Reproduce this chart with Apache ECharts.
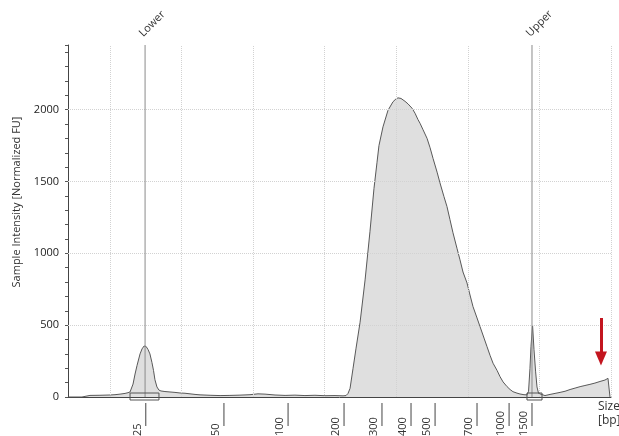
<!DOCTYPE html>
<html>
<head>
<meta charset="utf-8">
<script src="https://cdn.jsdelivr.net/npm/echarts@6/dist/echarts.min.js"></script>
<style>html,body{margin:0;padding:0;background:#fff;}#c{width:619px;height:436px;}</style>
</head>
<body>
<div id="c"></div>
<script>
// migration time (s) and intensity (normalized FU)
const timeSec = [17.07,18.04,18.11,18.60,19.30,20.00,20.35,20.70,21.05,21.26,21.40,21.61,21.75,21.89,22.10,22.24,22.38,22.52,22.66,22.79,22.93,23.04,23.14,23.28,23.42,23.56,23.84,24.19,24.54,24.89,25.24,25.59,25.94,26.29,26.99,27.69,28.38,29.08,29.78,30.34,30.83,31.53,32.23,32.92,33.62,34.32,35.02,35.72,36.28,36.49,36.63,36.77,36.98,37.19,37.47,37.82,38.16,38.44,38.65,38.79,39.07,39.42,39.77,39.98,40.12,40.33,40.61,40.82,41.10,41.31,41.52,41.66,41.87,42.15,42.36,42.57,42.85,43.05,43.33,43.54,43.75,43.96,44.24,44.45,44.66,44.94,45.15,45.36,45.64,45.85,46.13,46.34,46.55,46.76,47.04,47.25,47.46,47.74,47.95,48.15,48.43,48.64,48.92,49.13,49.24,49.34,49.41,49.52,49.62,49.73,49.83,49.94,50.04,50.39,50.74,51.09,51.44,51.79,52.14,52.49,52.84,53.18,53.53,53.88,54.23,54.58,54.79,54.90,54.93];
const intensity = [0,0,12,11,12,14,16,20,25,30,35,90,160,220,300,335,355,352,330,300,240,185,120,70,48,42,38,35,32,28,26,22,18,15,12,10,11,13,16,22,20,14,11,13,10,12,9,10,8,10,25,60,200,340,520,815,1150,1450,1630,1750,1880,1995,2055,2075,2082,2078,2058,2040,2010,1975,1930,1905,1860,1800,1735,1660,1565,1491,1395,1326,1235,1143,1035,955,870,794,710,629,550,490,410,350,290,235,185,141,105,72,52,37,27,21,16,15,40,200,350,500,330,180,70,25,12,10,18,25,32,40,52,62,72,80,88,97,108,118,130,125,0];

// size ladder (bp) and their migration times
const sizeLabels = ['25','50','100','200','300','400','500','700','1000','1500'];
const sizeTimes = [22.5,27.96,32.44,36.35,39.00,41.03,42.71,45.64,47.88,49.48];

// markers
const markerNames = ['Lower','Upper'];
const markerTimes = [22.45,49.48];
const bracketStart = [21.40,49.13];
const bracketEnd = [23.42,50.18];

// grid lines
const gridTimes = [20,25,30,35,40,45,50,55];
const gridValues = [500,1000,1500,2000];

// annotation arrow
const arrowTime = 54.30;
const arrowFrom = 550;
const arrowTo = 268;

const X_MIN = 17.066, X_MAX = 55, Y_MAX = 2450;
const FONT = 'Open Sans';

const chart = echarts.init(document.getElementById('c'), null, {renderer: 'canvas'});
const option = {
  animation: false,
  backgroundColor: '#fff',
  grid: {left: 68, top: 45, width: 543, height: 352},
  xAxis: {
    type: 'value', min: X_MIN, max: X_MAX,
    axisLine: {show: true, onZero: false, lineStyle: {color: '#444', width: 1}},
    axisTick: {show: false}, axisLabel: {show: false}, splitLine: {show: false}
  },
  yAxis: {
    type: 'value', min: 0, max: Y_MAX, interval: 100,
    axisLine: {show: true, lineStyle: {color: '#444', width: 1}},
    axisTick: {show: true, length: 3, lineStyle: {color: '#555'}},
    axisLabel: {
      margin: 9, color: '#222', fontFamily: FONT, fontSize: 11,
      formatter: v => (v % 500 === 0 ? String(v) : '')
    },
    splitLine: {show: false}
  },
  graphic: [
    {type: 'text', x: 17, y: 202, rotation: Math.PI / 2,
     style: {text: 'Sample Intensity [Normalized FU]', fill: '#333', font: '11px "Open Sans"', align: 'center', verticalAlign: 'middle'}},
    {type: 'text', x: 598, y: 407,
     style: {text: 'Size', fill: '#333', font: '12px "Open Sans"', align: 'left', verticalAlign: 'middle'}},
    {type: 'text', x: 598, y: 421,
     style: {text: '[bp]', fill: '#333', font: '12px "Open Sans"', align: 'left', verticalAlign: 'middle'}}
  ],
  series: [
    {
      type: 'line', name: 'sample',
      data: timeSec.map((t, i) => [t, intensity[i]]),
      symbol: 'none', smooth: false,
      lineStyle: {color: '#585858', width: 1},
      areaStyle: {color: '#dfdfdf', opacity: 1},
      z: 2,
      markLine: {
        silent: true, symbol: 'none', label: {show: false},
        lineStyle: {type: 'dotted', color: '#d2d2d2', width: 1},
        data: [...gridTimes.map(t => ({xAxis: t})), ...gridValues.map(v => ({yAxis: v}))]
      }
    },
    {
      type: 'custom', name: 'markers', clip: false, z: 5,
      data: markerTimes.map((t, i) => [t, i]),
      renderItem: (params, api) => {
        const t = api.value(0);
        const i = params.dataIndex;
        const p0 = api.coord([t, 0]);
        const p1 = api.coord([t, Y_MAX]);
        const b0 = api.coord([bracketStart[i], 0]);
        const b1 = api.coord([bracketEnd[i], 0]);
        return {
          type: 'group',
          children: [
            {type: 'line', shape: {x1: p0[0], y1: p0[1], x2: p1[0], y2: p1[1]}, style: {stroke: '#8a8a8a', lineWidth: 1}},
            {type: 'rect', shape: {x: b0[0], y: b0[1] - 4, width: b1[0] - b0[0], height: 7}, style: {stroke: '#555', fill: 'none', lineWidth: 1}},
            {type: 'text', x: p1[0] - 4, y: p1[1] - 10, rotation: Math.PI / 4,
             style: {text: markerNames[i], fill: '#333', font: '11px "Open Sans"', align: 'left', verticalAlign: 'middle'}}
          ]
        };
      }
    },
    {
      type: 'custom', name: 'sizes', clip: false, z: 5,
      data: sizeTimes.map((t, i) => [t, i]),
      renderItem: (params, api) => {
        const p = api.coord([api.value(0), 0]);
        const i = params.dataIndex;
        return {
          type: 'group',
          children: [
            {type: 'line', shape: {x1: p[0], y1: p[1] + 6, x2: p[0], y2: p[1] + 29}, style: {stroke: '#444', lineWidth: 1}},
            {type: 'text', x: p[0] - 8, y: p[1] + 39, rotation: Math.PI / 2,
             style: {text: sizeLabels[i], fill: '#333', font: '11px "Open Sans"', align: 'left', verticalAlign: 'middle'}}
          ]
        };
      }
    },
    {
      type: 'line', name: 'arrow', data: [], z: 6,
      markLine: {
        silent: true, symbol: ['none', 'triangle'], symbolSize: [12, 14],
        label: {show: false},
        lineStyle: {type: 'solid', color: '#c3151f', width: 3},
        data: [[{coord: [arrowTime, arrowFrom]}, {coord: [arrowTime, arrowTo]}]]
      }
    }
  ]
};
chart.setOption(option);
</script>
</body>
</html>
